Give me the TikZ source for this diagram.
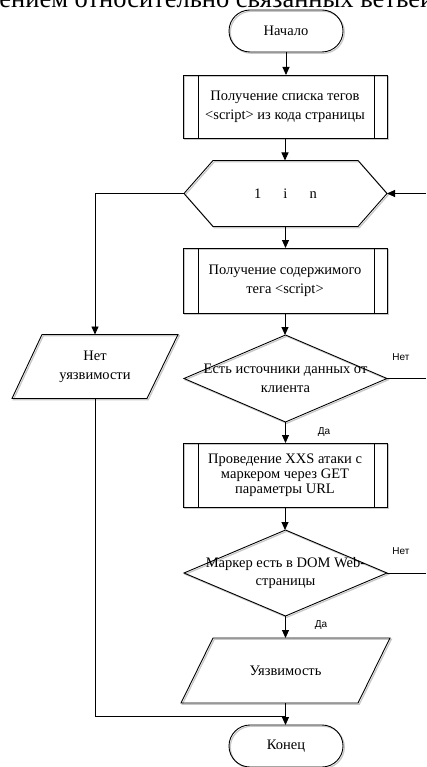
\documentclass[tikz,border=0pt]{standalone}
\usepackage{fontspec}
\setmainfont{Liberation Serif}
\newfontfamily\lblfont{Liberation Sans}
\usetikzlibrary{arrows.meta,shapes.geometric,calc}
\begin{document}
\begin{tikzpicture}[x=1pt,y=-1pt,
  line width=0.9pt,
  arr/.style={-{Triangle[length=8pt,width=7pt]}},
  box/.style={rectangle,inner sep=0pt,outer sep=0pt,align=center,
    font=\fontsize{14.5}{18.8}\selectfont},
  shd/.style={preaction={draw=black!22,line width=1.2pt,transform canvas={xshift=1.3pt,yshift=-1.3pt}}},
  term/.style={box,draw,shd,rounded corners=21pt,minimum width=114pt,minimum height=42pt},
  proc/.style={box,draw,shd,minimum width=204pt},
  txt/.style={align=center,inner sep=0pt,font=\fontsize{14.5}{18.8}\selectfont},
  lbl/.style={inner sep=0pt,font=\lblfont\fontsize{10}{11}\selectfont},
]
\useasboundingbox (0,0) rectangle (426,767);
\begin{scope}
\clip (0,0) rectangle (426,767);
\node[anchor=base west,inner sep=0pt,font=\fontsize{26.5}{28}\selectfont] (head) at (-1,7.5) {ением относительно связанных ветвей.};
\end{scope}

% nodes
\node[term] (start) at (286,31) {Начало};
\node[proc,minimum height=63pt] (p1) at (285,106.5) {Получение списка тегов\\<script> из кода страницы};
\node[box,minimum width=203pt,minimum height=66pt] (hex) at (285.5,193.5) {};
\draw[shd] (hex.west) -- ([xshift=29pt]hex.north west) -- ([xshift=-29pt]hex.north east) -- (hex.east)
  -- ([xshift=-29pt]hex.south east) -- ([xshift=29pt]hex.south west) -- cycle;
\node[txt] (hext) at (hex.center) {1\hspace{22pt}i\hspace{22pt}n};

\node[proc,minimum height=65pt] (p2) at (285,280.5) {Получение содержимого\\тега <script>};

\node[diamond,draw,shd,inner sep=0pt,outer sep=0pt,minimum width=203pt,minimum height=87pt] (d1) at (285.5,378.5) {};
\node[txt] (d1t) at (d1.center) {Есть источники данных от\\клиента};

\node[proc,minimum height=64pt,font=\fontsize{14.5}{15.2}\selectfont] (p3) at (285,475) {Проведение XXS атаки с\\маркером через GET\\параметры URL};

\node[diamond,draw,shd,inner sep=0pt,outer sep=0pt,minimum width=203pt,minimum height=86pt] (d2) at (285.5,573) {};
\node[txt] (d2t) at (d2.center) {Маркер есть в DOM Web-\\страницы};

\node[box,minimum width=209pt,minimum height=65pt] (out) at (285.5,670.5) {};
\draw[shd] ([xshift=32pt]out.north west) -- (out.north east) -- ([xshift=-32pt]out.south east) -- (out.south west) -- cycle;
\node[txt] (outt) at (out.center) {Уязвимость};

\node[box,minimum width=166pt,minimum height=64pt] (nout) at (95,366.5) {};
\draw[shd] ([xshift=30pt]nout.north west) -- (nout.north east) -- ([xshift=-31pt]nout.south east) -- (nout.south west) -- cycle;
\node[txt] (noutt) at (nout.center) {Нет\\уязвимости};

\node[term] (end) at (286,746) {Конец};

% process side bars
\foreach \p in {p1,p2,p3}{
  \draw ([xshift=15pt]\p.north west) -- ([xshift=15pt]\p.south west);
  \draw ([xshift=-13pt]\p.north east) -- ([xshift=-13pt]\p.south east);
}

% coordinates
\coordinate (j) at (286,716);
\coordinate (e0) at (426,193.5);
\coordinate (e1) at (426,378.5);
\coordinate (e2) at (426,573);

% connectors
\draw[arr] (start.south) -- (start.south |- p1.north);
\draw[arr] (p1.south) -- (p1.south |- hex.north);
\draw[arr] (hex.south) -- (hex.south |- p2.north);
\draw[arr] (p2.south) -- (p2.south |- d1.north);
\draw[arr] (d1.south) -- (d1.south |- p3.north);
\draw[arr] (p3.south) -- (p3.south |- d2.north);
\draw[arr] (d2.south) -- (d2.south |- out.north);
\draw[arr] (out.south) -- (out.south |- end.north);
\draw[arr] (hex.west) -| (nout.north);
\draw (nout.south) |- (j);
\draw[arr] (e0) -- (hex.east);
\draw (d1.east) -- (e1);
\draw (d2.east) -- (e2);

% labels
\node[lbl] (n1) at (401,357) {Нет};
\node[lbl] (y1) at (324,432) {Да};
\node[lbl] (n2) at (401,551) {Нет};
\node[lbl] (y2) at (321,625) {Да};
\end{tikzpicture}
\end{document}
